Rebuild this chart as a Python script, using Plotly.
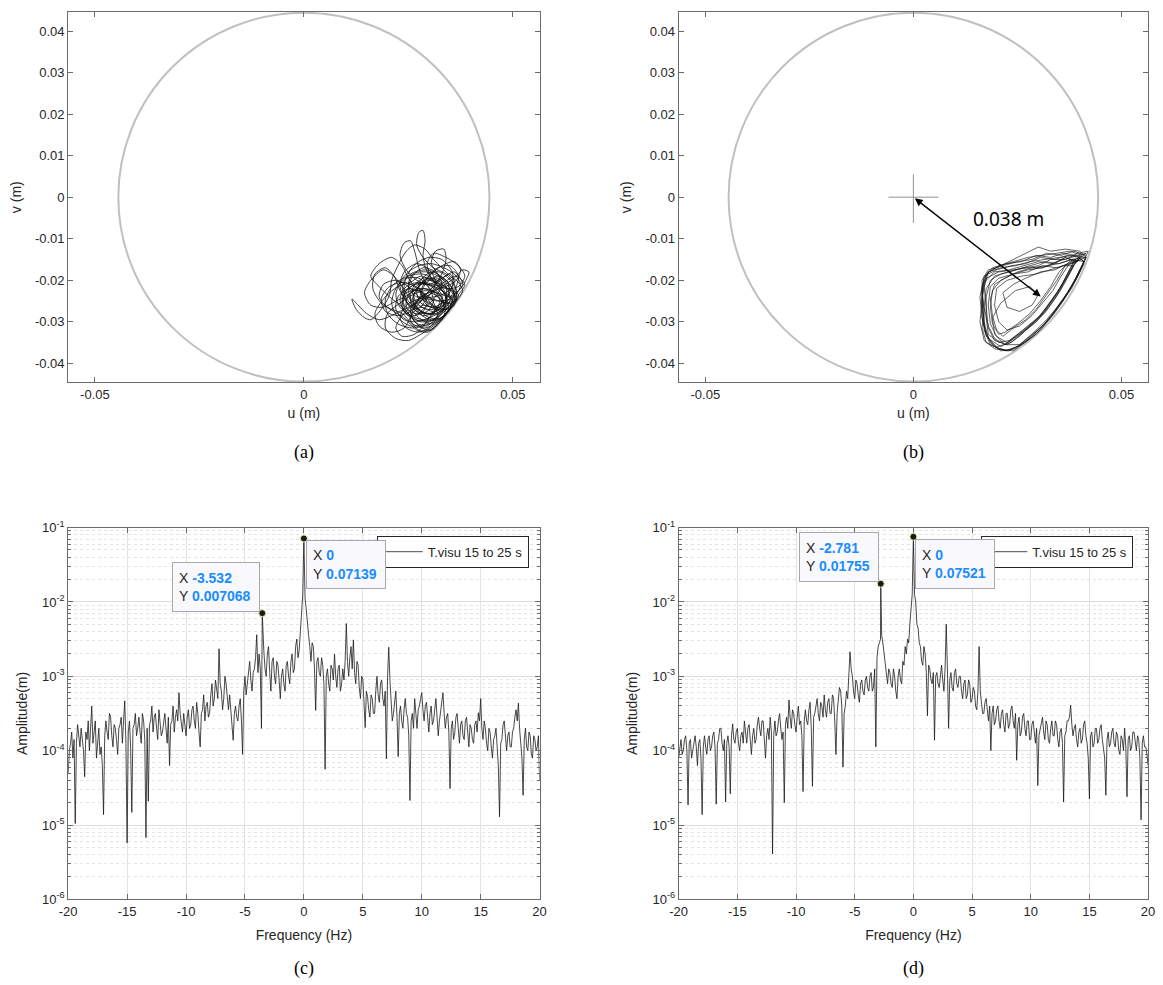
import numpy as np
import plotly.graph_objects as go

# ---------------- DATA ----------------
clearance_radius = 0.0444  # m

# orbit (a): points in mm (u, v)
orbit_a_mm = [
    (27,-22),(29.5,-19.5),(32,-21),(34,-24),(34.5,-27),(32,-29.5),(29,-29),(26.5,-26.5),(24.5,-23),(22,-19.5),
    (19.5,-17),(17,-18.5),(16.5,-22),(18.5,-25.5),(21.5,-27.5),(24.5,-29.5),(27,-32),(29.5,-32.5),(32.5,-30),(35,-27),
    (36.5,-24),(36,-21),(34,-18.5),(31,-17),(28.5,-14.5),(27,-11.5),(27.5,-8.5),(28.5,-8),(29,-10.5),(28.5,-14),
    (29.5,-18),(31.5,-20.5),(34.5,-22),(37,-23.5),(36,-25.5),(34,-28),(31,-31),(28,-33),(25,-34.5),(22,-34),
    (19.5,-31.5),(20,-28),(23,-25.5),(26,-23.5),(29,-22.5),(32,-23),(35,-24),(37.5,-22),(39,-19.5),(39.5,-18),
    (38,-17.5),(36,-19.5),(33,-21.5),(30,-23.5),(27,-25.5),(24,-27),(21,-28.5),(18,-29.5),(15,-28),(13,-26),
    (11.5,-24.5),(12.5,-27),(14.5,-29),(16,-29.5),(18.5,-27),(20.5,-23.5),(21,-20),(22.5,-16.5),(24.5,-13),(26.5,-11.5),
    (29,-12.5),(31,-15),(33,-17),(35,-19),(37,-20.5),(38,-22.5),(36.5,-25),(34.5,-27.5),(32.5,-30),(30,-32),
    (27.5,-31),(25.5,-28.5),(23,-26),(20.5,-24),(17.5,-21),(16,-19),(18,-16),(21,-14.5),(23.5,-16.5),(25,-19.5),
    (27,-22),(29.5,-24),(32.5,-25),(35,-25.5),(36.5,-24.5),(35,-22),(32.5,-19),(30.5,-16),(31.5,-13),(33.5,-12.5),
    (34,-15),(33,-18.5),(31,-21.5),(28.5,-24),(26,-26),(23.5,-28.5),(22,-31.5),(23.5,-33.5),(26.5,-33),(29,-30.5),
    (31,-27.5),(33,-25.5),(35.5,-26),(33.5,-28.5),(30.5,-30.5),(27.5,-29),(25,-26),(23,-22.5),(21.5,-19),(19,-17.5),
    (16,-20),(14.5,-23),(16,-26),(19,-26.5),(22,-25),(25,-23.5),(28,-21),(30.5,-18.5),(33,-16.5),(36,-15.5),
    (37.5,-17.5),(36.5,-20),(34,-21.5),(31,-22.5),(28,-24),(25.5,-27),(26.5,-30),(29.5,-31),(32,-28.5),(34.5,-25.5),
    (36.5,-23),(38,-21),(36,-18),(33,-19.5),(30,-21),(27,-20),(24.5,-17.5),(23,-14),(24,-11),(25.5,-10.5),
    (26.5,-13),(27.5,-17),(29,-20.5),(31.5,-23.5),(34,-26.5),(33,-29),(30,-29),(27.5,-27),(26,-24.5),(27.5,-21.5),
    (30,-20),(33,-21),(35.5,-23),(36.5,-24.5),(35.5,-26.5),(32,-27),(28.5,-26),(26,-28),(24,-31.5),(21,-32.5),
    (18,-31),(17,-28),(19.5,-24),(22.5,-21.5),(25.5,-20.5),(28,-19),(31,-20.5),(33.5,-23),(34,-26),(31.5,-28),
    (28,-27.5),(25,-25),(23.5,-21.5),(25.5,-18.5),(29,-17.5),(32,-18.5),(34.5,-20.5),(36,-23),(35,-26),(32.5,-28.5),
    (29,-30.5),(25.5,-31),(22.5,-29),(21,-25.5),(22,-22),(24.5,-19.5),(27.5,-19.5),(30,-22),(31,-25),(29.5,-27.5),
    (26.5,-28),(24,-26),(24,-23),(26.5,-21),(30,-21),(33,-22.5),(35.5,-24.5),(34.5,-27.5),(32,-30),(29,-31.5),
    (26,-30.5),(23.5,-28),(20,-26.5),(18,-24),(19,-21),(22,-20),(25,-21.5),(27.5,-24),(30.5,-26),(33,-27.5),
    (35,-26),(36.5,-23.5),(37.5,-21),(36,-18.5),(33.5,-17),(30.5,-16),(27.5,-16.5),(25,-18),(23,-20.5),(22,-23.5),
    (23,-26.5),(25.5,-28.5),(28.5,-29.5),(31.5,-29.5),(33.5,-27),(33,-24),(30.5,-22.5),(27.5,-22),(25,-23.5),(24.5,-26.5),
    (26.5,-28.5),(29,-26.5),(31.5,-24),(33,-21),(31.5,-18),(28.5,-17),(26,-19),(25,-22.5),(26.5,-26),(29.5,-28),
    (32.5,-27),(34,-24.5),(34,-21.5),(32,-19.5),(29,-20),(27,-22.5),(28,-25.5),(31,-26.5),(33.5,-25),(35.5,-21.5),
    (35.5,-18),(33,-15),(30,-14.5),(27.5,-15.5),(25.5,-17.5),(24,-21),(24.5,-25),(27,-27.5),(30.5,-28),(33.5,-26),
    (36,-22.5),(37,-19),(35,-16.5),(32,-17),(29.5,-19.5),(28,-23),(29.5,-26),(32.5,-26.5),(34.5,-24),(34.5,-20.5),
    (32,-19),(29,-21),(27.5,-24.5),(25.5,-27.5),(22.5,-28.5),(19.5,-27.5),(18.5,-24.5),(20.5,-21.5),(24,-20.5),(27.5,-22),
    (30,-25),(32,-28),(30.5,-31),(27.5,-32.5),(24.5,-31.5),(23,-29),(24.5,-26),(27.5,-24.5),(31,-24),(34,-23),
    (36,-20.5),(35,-18.5),(32.5,-20),(30,-22.5),(28,-25),(26.5,-27),
    (27,-25),(30,-23),(32.5,-24.5),(31.5,-27.5),(28.5,-28.5),(26,-26.5),(25.5,-23.5),(27.5,-21),(31,-21.5),(33,-23.5),
    (32.5,-26.5),(29.5,-27),(27,-25.5),(26,-22),(28.5,-19.5),(32,-20),(34.5,-22.5),(35,-25),(33,-27.5),(30,-29),
    (27,-30),(24,-29.5),(22,-27),(22.5,-24),(25,-22),(28,-23),(29.5,-25.5),(28,-28),(25,-28.5),(23.5,-26),
    (24.5,-23),(27.5,-22.5),(30.5,-24.5),(31.5,-27),(29.5,-29.5),(26.5,-29.5),(24,-27.5),(23,-24.5),(24.5,-21.5),(27.5,-20.5),
    (30.5,-21.5),(32.5,-23.5),(33.5,-26),(32,-28),(29,-28),(26.5,-26),(26.5,-23),(29,-22),(31.5,-23),(33,-25.5),
    (31,-27.5),(28,-26.5),
    (27,-27),(24.5,-25),(23,-21.5),(24,-18),(27,-16),(30,-17.5),(31.5,-20.5),(30,-23.5),(27,-24),(25,-21.5),
    (26,-18.5),(29.5,-18),(33,-19.5),(35.5,-22),(36,-25),(33.5,-28.5),(30,-30.5),(26,-31.5),(22.5,-30.5),(20,-28),
    (19.5,-24.5),(21.5,-21),(25,-19),(28.5,-18.5),(32,-20.5),(34,-23.5),(33.5,-27),(31,-29.5),(28,-30),(25,-28),
    (23.5,-25),(25,-22),(28,-20.5),(31,-21),(34,-22),(37,-21.5),(38.5,-19),(37,-16.5),(34,-14.5),(31,-13.5),
    (29.5,-16),(30.5,-19.5),(33,-22.5),(35.5,-25),(34,-27),(31,-26),(28.5,-24),(27.5,-21),(29.5,-18.5),(32.5,-18),
    (35,-20),(36.5,-22.5),(35,-24.5),(32,-25),(29,-24.5),(26.5,-26.5),(25.5,-29.5),(27.5,-32),(30.5,-32),(33,-29.5),
    (35,-26.5),(37,-23.5),(38.5,-21),(36.5,-19),(33.5,-20.5),(30.5,-23),(28,-26.5),
]

# orbit (b): points in mm (u, v)
orbit_b_mm = [
    (41.5,-14),(38.5,-13),(35.5,-14),(32,-13.5),(28.5,-15),(25,-15.5),(21.5,-16.5),(18,-17.5),(16.5,-20),(16.5,-25),(16,-30),(17,-34.5),(19.5,-36.5),(23,-37),(26.5,-35),(30,-32),(33.5,-28.5),(36,-25),(38,-21.5),(40,-17.5),
    (41,-15.5),(38,-15),(35,-16),(31.5,-15.5),(28,-16.5),(24.5,-17.5),(21,-18.5),(18.5,-20),(17.5,-24),(17.5,-29),(18,-33),(20.5,-35),(23,-34.5),(26.5,-32),(29.5,-29.5),(32,-26.5),(34.5,-23),(36.5,-19.5),(38.5,-15.5),
    (36.5,-14.5),(34,-16),(31,-17),(27.5,-17.5),(24,-18.5),(21,-20),(19,-22.5),(18.5,-26.5),(19,-30.5),(20.5,-33),(22,-32.5),(25,-30.5),(28,-28),(30.5,-25),(33,-21.5),(35,-18),(37.5,-15.5),
    (40,-14.5),(37,-14),(34,-15),(30.5,-14.5),(27,-16),(23.5,-16.5),(20,-17.5),(17,-19),(16.5,-23),(17,-27.5),(17,-32),(18.5,-35.5),(22,-37),(25,-36),(28,-33.5),(31,-31),(33.5,-28),(36,-24.5),(38.5,-20.5),(40.5,-16.5),(42,-13),
    (39.5,-13.5),(36.5,-15),(33,-15),(30,-16.5),(26.5,-17),(23,-18),(19.5,-19),(17.5,-22),(17,-26.5),(18,-31),(19.5,-34),(22,-35.5),(24.5,-33.5),(27.5,-31),(30.5,-28.5),(33,-25),(35.5,-21.5),(37.5,-17.5),(39,-15),
    (37,-16),(34,-17.5),(30.5,-18),(27,-19.5),(24,-21),(21.5,-23),(22.5,-26.5),(25.5,-27.5),(28.5,-26),(30,-23.5),(28,-21.5),(24.5,-22.5),(21,-25.5),(19,-29),(19.5,-33),(22,-35.5),(25.5,-35.5),(29,-32.5),(32,-29.5),(34.5,-26.5),(37,-23),(39,-19.5),(41,-15.5),
    (39,-14),(36,-13.5),(33,-14.5),(29.5,-14),(26,-15.5),(22.5,-16),(19,-17),(17,-19.5),(16,-24),(16.5,-29),(17.5,-33.5),(20,-36),(23.5,-35),(26.5,-32.5),(29.5,-30),(32.5,-26.5),(35,-23),(37,-19.5),(38.5,-16.5),
    (36,-16.5),(33,-17.5),(29.5,-18.5),(26,-19),(22.5,-20),(20,-22),(19.5,-26),(20.5,-30),(22.5,-32),(25.5,-31),(28.5,-28.5),(31,-25.5),(33.5,-22.5),(35.5,-19),(37.5,-16),
    (41.5,-14.5),(38.5,-14),(35,-14.5),(31.5,-15),(28,-15.5),(24.5,-16.5),(21,-17),(18,-18),(16.5,-21.5),(16.5,-26),(17,-31),(18.5,-35),(21,-37),(24.5,-36.5),(28,-34),(31.5,-30.5),(34,-27.5),(36.5,-24),(39,-20),(41,-16),
    (40.5,-15),(37.5,-16),(34.5,-17),(31,-16.5),(27.5,-18),(24,-18.5),(20.5,-19.5),(18.5,-21.5),(18,-26),(18.5,-30.5),(20,-33.5),(22.5,-35),(25.5,-33),(28.5,-30.5),(31.5,-27.5),(34,-24),(36,-20.5),(38,-17),
    (40.5,-14),(37.5,-13),(34.5,-13.5),(31,-14),(27.5,-14.5),(24,-15.5),(20.5,-16.5),(17.5,-18.5),(16.5,-22.5),(17,-27),(16.5,-31.5),(17.5,-35),(20.5,-36.5),(24,-37),(27.5,-34.5),(30.5,-32),(33,-29),(35.5,-25.5),(38,-22),(40,-18),(41.5,-14.5),
    (38,-15),(35,-16),(32,-16.5),(28.5,-17),(25,-18),(22,-19.5),(19.5,-21),(18.5,-24.5),(19,-28.5),(20,-32),(21.5,-33.5),(24,-31.5),(27,-29.5),(29.5,-27),(32,-23.5),(34.5,-20),(36.5,-16.5),
    (39.5,-15.5),(36.5,-14.5),(33.5,-16),(30,-15.5),(26.5,-16.5),(23,-17.5),(19.5,-18),(17,-20.5),(16.5,-25),(17,-30),(18,-34),(21,-36),(23.5,-34.5),(27,-32),(30,-29.5),(32.5,-26),(35,-22.5),(37,-19),(39,-15.5),
    (41.5,-13.5),(38,-14.5),(34.5,-15.5),(31,-17),(27.5,-17),(24,-17.5),(20.5,-18),(17.5,-19.5),(16.5,-24),(16.5,-29),(17.5,-33),(19.5,-36),(22.5,-37),(26,-35.5),(29.5,-33),(32.5,-29.5),(35,-26),(37.5,-22.5),(39.5,-19),(41.5,-14.5),
    (40,-13),(36.5,-12.5),(33,-13),(30,-12),(27,-13.5),(24,-15),(21,-16.5),(18,-18),(17,-21.5),(17.5,-26.5),(18,-31.5),(19.5,-34.5),(22.5,-35.5),(25.5,-33.5),(28.5,-30.5),(31.5,-28),(34,-24.5),(36,-21),(38,-17.5),(40,-14),
]

cross_u = [-0.006, 0.006, None, 0.0, 0.0]
cross_v = [0.0, 0.0, None, 0.0055, -0.0062]
arrow_tail = (0.0, 0.0)
arrow_head = (0.0306, -0.0239)
arrow_label = "0.038 m"
arrow_label_pos = (0.0228, -0.0053)

# spectra: log10 of amplitude (m) read on a 0.1 Hz grid from -20 to 20 Hz (one row = 2 Hz)
spec_c_log10 = [
    -4.3, -4.0, -3.9, -3.75, -4.1, -3.85, -4.98, -3.9, -3.65, -3.8, -3.95, -3.7, -3.9, -4.0, -4.35, -3.75, -3.85, -3.6, -4.0, -3.75,
    -3.4, -3.9, -3.75, -3.6, -4.1, -3.85, -3.7, -4.05, -3.95, -4.2, -4.86, -3.8, -3.6, -3.75, -3.85, -3.5, -3.55, -3.8, -3.95, -3.65,
    -3.7, -3.85, -4.05, -3.7, -3.65, -3.55, -3.9, -3.6, -3.33, -3.9, -5.24, -3.75, -3.6, -3.95, -4.83, -3.7, -3.65, -3.5, -3.8, -3.7,
    -3.55, -3.75, -3.9, -3.5, -3.6, -3.85, -5.17, -3.7, -4.68, -3.65, -3.6, -3.4, -3.75, -3.55, -3.5, -3.7, -3.85, -3.45, -3.6, -3.8,
    -3.75, -3.6, -3.5, -3.7, -3.9, -3.55, -4.2, -3.65, -3.6, -3.4, -3.75, -3.55, -3.45, -3.6, -3.22, -3.5, -3.6, -3.75, -3.5, -3.65,
    -3.8, -3.55, -3.45, -3.7, -3.65, -3.45, -3.4, -3.6, -3.7, -3.35, -3.5, -3.75, -3.95, -3.5, -3.45, -3.25, -3.6, -3.4, -3.35, -3.55,
    -3.5, -3.25, -3.1, -3.4, -3.3, -3.05, -3.15, -3.3, -2.63, -3.1, -3.2, -3.45, -3.3, -3.0, -3.1, -3.35, -3.45, -3.25, -3.5, -3.65,
    -3.86, -3.5, -3.4, -3.55, -3.6, -3.4, -3.3, -3.6, -4.05, -3.2, -3.0, -3.25, -3.1, -2.95, -2.8, -3.05, -3.2, -2.95, -2.9, -2.75,
    -2.44, -2.95, -2.7, -2.9, -3.7, -2.3, -2.65, -2.9, -3.0, -2.7, -2.6, -2.95, -3.2, -2.8, -2.75, -3.0, -3.1, -2.8, -2.85, -3.05,
    -3.3, -3.0, -2.9, -3.1, -3.2, -2.85, -2.8, -3.0, -3.1, -2.8, -2.7, -2.95, -2.9, -2.6, -2.5, -2.75, -2.65, -2.4, -2.05, -1.9,
    -1.146, -1.95, -2.1, -2.35, -2.45, -2.6, -2.8, -2.55, -2.6, -2.9, -3.46, -2.8, -2.75, -2.95, -3.0, -2.75, -2.85, -3.1, -4.25, -3.0,
    -2.9, -3.1, -3.2, -2.85, -2.9, -3.05, -2.7, -3.0, -3.15, -2.9, -2.85, -3.2, -3.1, -2.9, -3.05, -2.8, -2.29, -2.8, -3.0, -2.75,
    -2.6, -2.9, -2.51, -2.95, -3.1, -2.8, -2.85, -3.15, -3.3, -3.0, -3.04, -3.35, -3.69, -3.2, -3.27, -3.45, -3.55, -3.25, -3.3, -3.5,
    -3.5, -3.2, -3.0, -3.25, -3.35, -3.1, -3.05, -3.3, -3.4, -3.2, -4.11, -3.0, -2.61, -3.05, -3.3, -3.6, -3.5, -3.3, -3.2, -3.55,
    -4.08, -3.5, -3.4, -3.6, -3.7, -3.45, -3.3, -3.5, -3.55, -3.8, -4.67, -3.6, -3.5, -3.7, -3.3, -3.5, -3.7, -3.45, -3.4, -3.3,
    -3.22, -3.45, -3.6, -3.4, -3.35, -3.55, -3.75, -3.5, -3.4, -3.65, -3.6, -3.45, -3.3, -3.55, -3.8, -3.6, -3.45, -3.35, -3.22, -3.5,
    -3.7, -3.55, -3.5, -3.75, -4.51, -3.7, -3.6, -3.85, -3.76, -3.55, -3.5, -3.7, -3.9, -3.65, -3.6, -3.8, -3.85, -3.6, -3.55, -3.75,
    -3.95, -3.65, -3.7, -3.85, -3.9, -3.65, -3.6, -3.75, -3.49, -3.6, -3.3, -3.7, -3.85, -3.6, -3.7, -3.9, -4.0, -3.7, -3.75, -3.95,
    -4.1, -3.85, -3.8, -3.7, -3.95, -4.2, -4.89, -3.9, -3.85, -3.65, -3.6, -3.85, -4.0, -3.8, -3.75, -3.95, -3.95, -3.75, -3.7, -3.55,
    -3.45, -3.6, -3.36, -3.7, -3.9, -4.1, -4.6, -3.85, -3.7, -3.95, -4.0, -3.75, -3.8, -4.05, -4.1, -3.8, -3.85, -4.0, -3.95, -3.8,
    -4.4,
]
spec_d_log10 = [
    -4.1, -3.95, -3.85, -4.05, -4.0, -3.85, -3.8, -4.0, -4.73, -3.9, -3.85, -4.1, -4.0, -3.85, -3.8, -3.95, -4.2, -3.9, -3.85, -4.1,
    -4.86, -3.95, -3.8, -3.95, -4.05, -3.85, -3.8, -4.0, -3.95, -3.8, -3.75, -3.95, -4.72, -3.9, -3.85, -3.7, -3.7, -3.9, -4.0, -3.85,
    -4.69, -3.9, -3.8, -3.95, -4.58, -3.8, -3.64, -3.85, -3.9, -3.75, -3.7, -3.9, -4.0, -3.8, -3.75, -3.9, -3.6, -3.75, -3.9, -3.7,
    -3.65, -3.85, -4.05, -3.8, -3.7, -3.9, -3.85, -3.65, -3.55, -3.7, -3.8, -3.6, -3.6, -3.85, -4.1, -3.8, -3.7, -3.85, -3.55, -3.75,
    -5.39, -3.8, -3.6, -3.8, -3.75, -3.6, -3.5, -3.7, -3.85, -3.75, -4.7, -3.65, -3.55, -3.7, -3.32, -3.55, -3.7, -3.45, -3.5, -3.65,
    -3.75, -3.55, -3.4, -3.65, -3.6, -3.8, -4.55, -3.6, -3.45, -3.6, -3.65, -3.45, -3.35, -3.7, -4.48, -3.55, -3.5, -3.4, -3.3, -3.5,
    -3.6, -3.35, -3.4, -3.55, -3.25, -3.45, -3.55, -3.35, -3.3, -3.5, -3.5, -3.25, -3.3, -3.6, -4.05, -3.5, -3.35, -3.15, -3.2, -3.4,
    -4.22, -3.5, -3.4, -3.2, -3.3, -2.95, -2.67, -2.9, -3.0, -3.2, -3.3, -3.05, -3.1, -3.25, -3.35, -3.1, -3.05, -3.2, -3.25, -3.05,
    -3.0, -3.15, -3.2, -3.0, -2.95, -3.2, -3.15, -2.9, -3.95, -2.75, -2.6, -2.55, -2.5, -2.45, -2.55, -2.7, -2.8, -2.95, -3.1, -2.9,
    -2.95, -3.1, -3.15, -2.9, -3.0, -3.2, -3.3, -3.0, -2.9, -3.05, -3.1, -2.8, -2.85, -2.6, -2.7, -2.5, -2.55, -2.3, -2.05, -1.9,
    -1.124, -1.9, -2.0, -2.3, -2.35, -2.55, -2.6, -2.8, -2.85, -2.6, -2.7, -2.95, -3.53, -2.85, -2.9, -3.05, -3.1, -2.95, -3.86, -3.0,
    -2.95, -3.1, -3.15, -2.95, -2.85, -3.05, -3.2, -2.9, -2.3, -2.9, -3.7, -3.05, -2.95, -3.15, -3.2, -2.95, -2.9, -3.1, -3.15, -3.0,
    -3.0, -3.2, -3.3, -3.1, -3.05, -3.3, -3.25, -3.05, -3.1, -3.35, -3.3, -3.15, -3.2, -3.4, -3.45, -3.2, -2.6, -3.2, -3.35, -3.5,
    -3.5, -3.35, -3.3, -3.5, -3.6, -3.4, -4.0, -3.5, -3.4, -3.65, -3.6, -3.45, -3.4, -3.6, -3.7, -3.5, -3.45, -3.65, -3.75, -3.5,
    -3.5, -3.7, -3.65, -3.45, -3.4, -3.6, -3.7, -3.5, -4.13, -3.65, -3.55, -3.8, -3.75, -3.55, -3.5, -3.7, -3.8, -3.6, -3.6, -3.85,
    -3.85, -3.65, -3.6, -3.75, -3.9, -3.7, -4.47, -3.8, -3.7, -3.6, -3.55, -3.75, -3.85, -3.6, -3.65, -3.85, -3.9, -3.7, -3.6, -3.8,
    -3.8, -3.6, -3.65, -3.85, -3.95, -3.75, -3.7, -3.9, -4.69, -3.8, -3.75, -3.6, -3.6, -3.55, -3.39, -3.65, -3.8, -3.7, -3.65, -3.85,
    -3.95, -3.75, -3.7, -3.9, -3.85, -3.65, -3.6, -3.8, -3.9, -4.1, -4.65, -3.8, -3.75, -3.95, -3.9, -3.7, -3.7, -3.9, -3.85, -3.7,
    -3.65, -3.85, -3.95, -4.1, -4.6, -3.85, -3.75, -3.95, -3.9, -3.75, -3.7, -3.9, -3.95, -3.75, -3.8, -4.0, -4.05, -3.8, -3.85, -4.0,
    -3.7, -3.95, -4.62, -3.85, -3.8, -4.0, -3.95, -3.75, -3.75, -3.9, -4.0, -3.8, -3.85, -4.1, -4.93, -3.9, -3.8, -3.95, -3.95, -4.05,
    -4.2,
]

# data tips
tips_c_x = [-3.532, 0.0]
tips_c_y = [0.007068, 0.07139]
tips_d_x = [-2.781, 0.0]
tips_d_y = [0.01755, 0.07521]

legend_label = "T.visu 15 to 25 s"

orbit_ticks = [-0.05, 0, 0.05]
orbit_ticktext = ["-0.05", "0", "0.05"]
orbit_vticks = [0.04, 0.03, 0.02, 0.01, 0, -0.01, -0.02, -0.03, -0.04]
orbit_vticktext = ["0.04", "0.03", "0.02", "0.01", "0", "-0.01", "-0.02", "-0.03", "-0.04"]
freq_ticks = [-20, -15, -10, -5, 0, 5, 10, 15, 20]
freq_ticktext = ["-20", "-15", "-10", "-5", "0", "5", "10", "15", "20"]
amp_ticks = [1e-6, 1e-5, 1e-4, 1e-3, 1e-2, 1e-1]
amp_ticktext = ["10<sup>-6</sup>", "10<sup>-5</sup>", "10<sup>-4</sup>",
                "10<sup>-3</sup>", "10<sup>-2</sup>", "10<sup>-1</sup>"]

# ---------------- BUILD ----------------
def mm_to_m(pairs):
    return [p[0] / 1000.0 for p in pairs], [p[1] / 1000.0 for p in pairs]

ua, va = mm_to_m(orbit_a_mm)
ub, vb = mm_to_m(orbit_b_mm)

def spectrum(logs, extra_x, extra_y):
    f = np.linspace(-20, 20, len(logs))
    a = 10 ** np.array(logs, dtype=float)
    f = np.concatenate([f, extra_x])
    a = np.concatenate([a, extra_y])
    o = np.argsort(f, kind="stable")
    return f[o], a[o]

fc, ac = spectrum(spec_c_log10, [tips_c_x[0]], [tips_c_y[0]])
fd, ad = spectrum(spec_d_log10, [tips_d_x[0]], [tips_d_y[0]])

W, H = 1163, 985
def px_x(a, b):
    return [a / W, b / W]
def px_y(top, bottom):
    return [1 - bottom / H, 1 - top / H]

XL = px_x(60, 538)
XR = px_x(679, 1155)
YT = px_y(3, 380)
YB = px_y(527.7, 906)

TICKFONT = dict(family="Liberation Sans, Arial, sans-serif", size=13, color="#262626")
TITLEFONT = dict(family="Liberation Sans, Arial, sans-serif", size=14, color="#262626")
FRAME = "#6b6b6b"

def base_axis(**kw):
    d = dict(showline=True, linecolor=FRAME, linewidth=1, mirror="ticks",
             ticks="inside", ticklen=5, tickcolor=FRAME, tickwidth=1,
             tickfont=TICKFONT, zeroline=False, showgrid=False, fixedrange=True)
    d.update(kw)
    return d

fig = go.Figure()

line_col = "#111111"
fig.add_trace(go.Scatter(x=ua, y=va, xaxis="x", yaxis="y", mode="lines",
                         line=dict(color=line_col, width=0.8, shape="spline", smoothing=0.8),
                         showlegend=False, hoverinfo="skip"))
fig.add_trace(go.Scatter(x=ub, y=vb, xaxis="x2", yaxis="y2", mode="lines",
                         line=dict(color=line_col, width=0.65),
                         showlegend=False, hoverinfo="skip"))
fig.add_trace(go.Scatter(x=cross_u, y=cross_v, xaxis="x2", yaxis="y2", mode="lines",
                         line=dict(color="#777777", width=0.8),
                         showlegend=False, hoverinfo="skip"))

fig.add_trace(go.Scatter(x=fc, y=ac, xaxis="x3", yaxis="y3", mode="lines",
                         line=dict(color="#1a1a1a", width=0.8), name=legend_label,
                         legend="legend", showlegend=True))
fig.add_trace(go.Scatter(x=tips_c_x, y=tips_c_y, xaxis="x3", yaxis="y3", mode="markers",
                         marker=dict(size=7, color="#1a1a1a", line=dict(color="#eeeeaa", width=1)),
                         showlegend=False))
fig.add_trace(go.Scatter(x=fd, y=ad, xaxis="x4", yaxis="y4", mode="lines",
                         line=dict(color="#1a1a1a", width=0.8), name=legend_label,
                         legend="legend2", showlegend=True))
fig.add_trace(go.Scatter(x=tips_d_x, y=tips_d_y, xaxis="x4", yaxis="y4", mode="markers",
                         marker=dict(size=7, color="#1a1a1a", line=dict(color="#eeeeaa", width=1)),
                         showlegend=False))

minor_vals = [m * 10.0 ** e for e in range(-6, -1) for m in range(2, 10)]

orbit_x = dict(range=[-0.0564, 0.0564], tickmode="array", tickvals=orbit_ticks, ticktext=orbit_ticktext,
               title=dict(text="u (m)", font=TITLEFONT, standoff=7))
orbit_y = dict(range=[-0.0446, 0.0446], tickmode="array", tickvals=orbit_vticks, ticktext=orbit_vticktext,
               title=dict(text="v (m)", font=TITLEFONT, standoff=10))
freq_x = dict(range=[-20, 20], tickmode="array", tickvals=freq_ticks, ticktext=freq_ticktext,
              showgrid=True, gridcolor="#e2e2e2", gridwidth=1,
              title=dict(text="Frequency (Hz)", font=TITLEFONT, standoff=12))
amp_y = dict(type="log", range=[-6, -1], tickmode="array", tickvals=amp_ticks, ticktext=amp_ticktext,
             showgrid=True, gridcolor="#dedede", gridwidth=1,
             minor=dict(tickmode="array", tickvals=minor_vals, showgrid=True, gridcolor="#e4e4e4",
                        griddash="dot", ticks="inside", ticklen=3, tickcolor=FRAME),
             title=dict(text="Amplitude(m)", font=TITLEFONT, standoff=11))

LEGFONT = dict(family="Liberation Sans, Arial, sans-serif", size=13, color="#262626")
fig.update_layout(
    width=W, height=H, margin=dict(l=0, r=0, t=0, b=0, pad=0),
    paper_bgcolor="white", plot_bgcolor="white",
    xaxis=base_axis(domain=XL, anchor="y", **orbit_x),
    yaxis=base_axis(domain=YT, anchor="x", **orbit_y),
    xaxis2=base_axis(domain=XR, anchor="y2", **orbit_x),
    yaxis2=base_axis(domain=YT, anchor="x2", **orbit_y),
    xaxis3=base_axis(domain=XL, anchor="y3", **freq_x),
    yaxis3=base_axis(domain=YB, anchor="x3", **amp_y),
    xaxis4=base_axis(domain=XR, anchor="y4", **freq_x),
    yaxis4=base_axis(domain=YB, anchor="x4", **amp_y),
    legend=dict(x=527 / W, y=1 - 536 / H, xanchor="right", yanchor="top",
                bordercolor="#262626", borderwidth=1, bgcolor="white", font=LEGFONT,
                itemwidth=40, tracegroupgap=0),
    legend2=dict(x=1140 / W, y=1 - 536 / H, xanchor="right", yanchor="top",
                 bordercolor="#262626", borderwidth=1, bgcolor="white", font=LEGFONT,
                 itemwidth=40, tracegroupgap=0),
    showlegend=True,
    hovermode=False,
)

# clearance circles
for xr, yr in (("x", "y"), ("x2", "y2")):
    fig.add_shape(type="circle", xref=xr, yref=yr,
                  x0=-clearance_radius, x1=clearance_radius,
                  y0=-clearance_radius, y1=clearance_radius,
                  line=dict(color="#c0c0c0", width=2), layer="below")

# arrow with label in (b)
fig.add_annotation(x=arrow_head[0], y=arrow_head[1], ax=arrow_tail[0], ay=arrow_tail[1],
                   xref="x2", yref="y2", axref="x2", ayref="y2", text="", showarrow=True,
                   arrowhead=2, arrowside="end+start", arrowsize=1.1, arrowwidth=1.4,
                   arrowcolor="black", standoff=0, startstandoff=0)
fig.add_annotation(x=arrow_label_pos[0], y=arrow_label_pos[1], xref="x2", yref="y2",
                   text=arrow_label, showarrow=False,
                   font=dict(family="Noto Sans, Open Sans, sans-serif", size=19, color="black"))

# data tips
BLUE = "#1a8cff"
def tip_text(x, y):
    return ("X <span style='color:%s'><b>%s</b></span><br>Y <span style='color:%s'><b>%s</b></span>"
            % (BLUE, format(x, ".4g"), BLUE, format(y, ".4g")))

tip_font = dict(family="Liberation Sans, Arial, sans-serif", size=14, color="#262626")
tip_specs = [
    ("x3", "y3", tips_c_x[0], tips_c_y[0], "right", "bottom", -2, 1, 74, 36),
    ("x3", "y3", tips_c_x[1], tips_c_y[1], "left", "top", 2, -2, 66, 35),
    ("x4", "y4", tips_d_x[0], tips_d_y[0], "right", "bottom", -2, 2, 66, 36),
    ("x4", "y4", tips_d_x[1], tips_d_y[1], "left", "top", 2, -2, 66, 36),
]
for xr, yr, x, y, xa, ya, xs, ys, w, h in tip_specs:
    fig.add_annotation(x=x, y=np.log10(y), xref=xr, yref=yr, text=tip_text(x, y),
                       showarrow=False, xanchor=xa, yanchor=ya, xshift=xs, yshift=ys,
                       align="left", width=w, height=h, borderpad=6, borderwidth=1,
                       bordercolor="#a8a8a8", bgcolor="#f9f9fd", font=tip_font)

# panel labels
PANEL_FONT = dict(family="Liberation Serif, Times New Roman, serif", size=18, color="black")
for lab, xd, ypx in (("(a)", XL, 451), ("(b)", XR, 451), ("(c)", XL, 976), ("(d)", XR, 976)):
    fig.add_annotation(x=(xd[0] + xd[1]) / 2, y=1 - ypx / H, xref="paper", yref="paper",
                       text=lab, showarrow=False, font=PANEL_FONT, xanchor="center", yanchor="middle")

fig.write_html("out.html")
